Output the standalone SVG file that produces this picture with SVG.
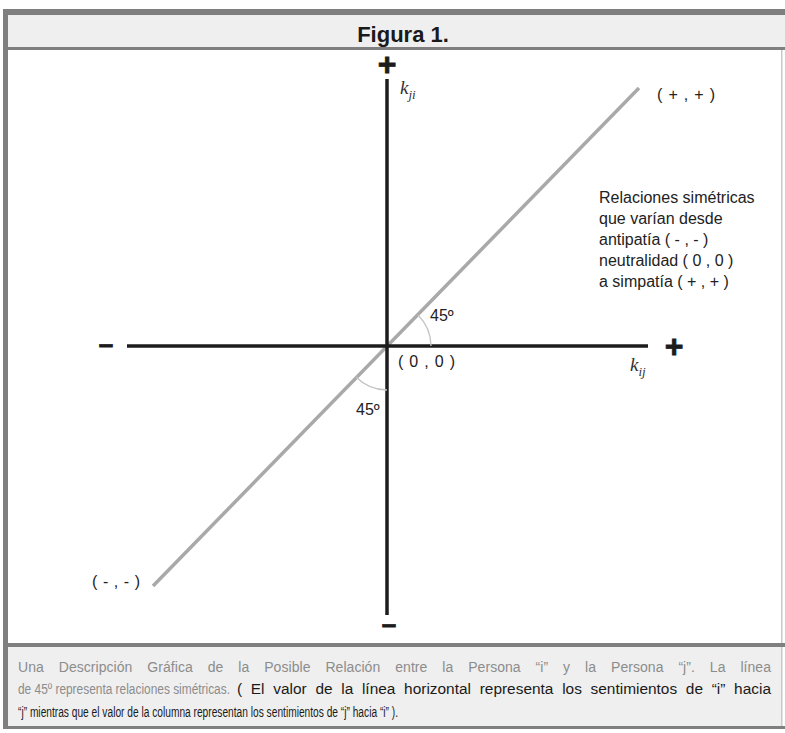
<svg xmlns="http://www.w3.org/2000/svg" width="785" height="733" viewBox="0 0 785 733">
<style>
.frame{fill:#7f7f7f}
.band{fill:#efefef}
.axis{stroke:#1c1c1c;stroke-width:3.5;fill:none}
.diag{stroke:#a9a9a9;stroke-width:3.5;fill:none}
.arc{stroke:#c4c4c4;stroke-width:1.3;fill:none}
.lbl{font-family:"Liberation Sans",Arial,sans-serif;font-size:16px;fill:#222}
.sign{font-family:"Liberation Sans",Arial,sans-serif;font-weight:bold;fill:#1c1c1c;stroke:#1c1c1c;stroke-width:0.8}
.kv{font-family:"Liberation Serif","Times New Roman",serif;font-style:italic;fill:#333}
.cap{font-family:"Liberation Sans",Arial,sans-serif;font-size:14px}
</style>
<rect x="0" y="0" width="785" height="733" fill="#ffffff"/>
<g id="frame">
<rect class="band" x="8" y="15" width="777" height="32"/>
<rect class="band" x="8" y="647" width="774" height="79"/>
<rect class="frame" x="3" y="9" width="782" height="6"/>
<rect class="frame" x="3" y="9" width="5" height="720"/>
<rect class="frame" x="8" y="47" width="777" height="3"/>
<rect class="frame" x="8" y="643" width="777" height="4"/>
<rect class="frame" x="3" y="726" width="782" height="3"/>
<rect fill="#c8c8c8" x="781" y="50" width="1.5" height="593"/>
<rect fill="#c8c8c8" x="781" y="647" width="1.5" height="79"/>
</g>
<g id="title">
<text x="403" y="42" text-anchor="middle" font-family="Liberation Sans,Arial,sans-serif" font-weight="bold" font-size="22" fill="#1a1a1a">Figura 1.</text>
</g>
<g id="connectors">
<line class="diag" x1="153" y1="586" x2="639" y2="88"/>
<line class="axis" x1="387" y1="79" x2="387" y2="615"/>
<line class="axis" x1="127" y1="346" x2="648" y2="346"/>
<path class="arc" d="M 418 315 A 44 44 0 0 1 431 346"/>
<path class="arc" d="M 356 377 A 44 44 0 0 0 387 390"/>
</g>
<g id="axis-labels">
<text class="sign" x="387" y="75" text-anchor="middle" font-size="32">+</text>
<text class="sign" x="674" y="357" text-anchor="middle" font-size="32">+</text>
<text class="sign" x="106" y="353" text-anchor="middle" font-size="26">–</text>
<text class="sign" x="389" y="633" text-anchor="middle" font-size="26">–</text>
<text class="kv" x="400" y="94" font-size="19">k<tspan font-size="13" dy="5">ji</tspan></text>
<text class="kv" x="630" y="371" font-size="19">k<tspan font-size="13" dy="5">ij</tspan></text>
</g>
<g id="point-labels">
<text class="lbl" x="657" y="100" textLength="58" lengthAdjust="spacing">( + , + )</text>
<text class="lbl" x="92" y="587" textLength="48" lengthAdjust="spacing">( - , - )</text>
<text class="lbl" x="398" y="367" textLength="57" lengthAdjust="spacing">( 0 , 0 )</text>
<text class="lbl" x="430" y="321">45º</text>
<text class="lbl" x="356" y="415">45º</text>
</g>
<g id="legend">
<text class="lbl" x="599" y="203" font-size="16.4">Relaciones simétricas</text>
<text class="lbl" x="599" y="224" font-size="16.4">que varían desde</text>
<text class="lbl" x="599" y="245" font-size="16.4">antipatía ( - , - )</text>
<text class="lbl" x="599" y="266" font-size="16.4">neutralidad ( 0 , 0 )</text>
<text class="lbl" x="599" y="287" font-size="16.4">a simpatía ( + , + )</text>
</g>
<g id="caption">
<text class="cap" x="18" y="672" fill="#8c8c8c" word-spacing="11" textLength="753" lengthAdjust="spacing">Una Descripción Gráfica de la Posible Relación entre la Persona “i” y la Persona “j”. La línea</text>
<text class="cap" x="18" y="694" fill="#8c8c8c" font-size="12.2" textLength="212" lengthAdjust="spacingAndGlyphs">de 45º representa relaciones simétricas.</text>
<text class="cap" x="237" y="694" fill="#1a1a1a" word-spacing="4" textLength="534" lengthAdjust="spacingAndGlyphs">( El valor de la línea horizontal representa los sentimientos de “i” hacia</text>
<text class="cap" x="18" y="717" fill="#1a1a1a" font-size="13.5" textLength="380" lengthAdjust="spacingAndGlyphs">“j” mientras que el valor de la columna representan los sentimientos de “j” hacia “i” ).</text>
</g>
</svg>
